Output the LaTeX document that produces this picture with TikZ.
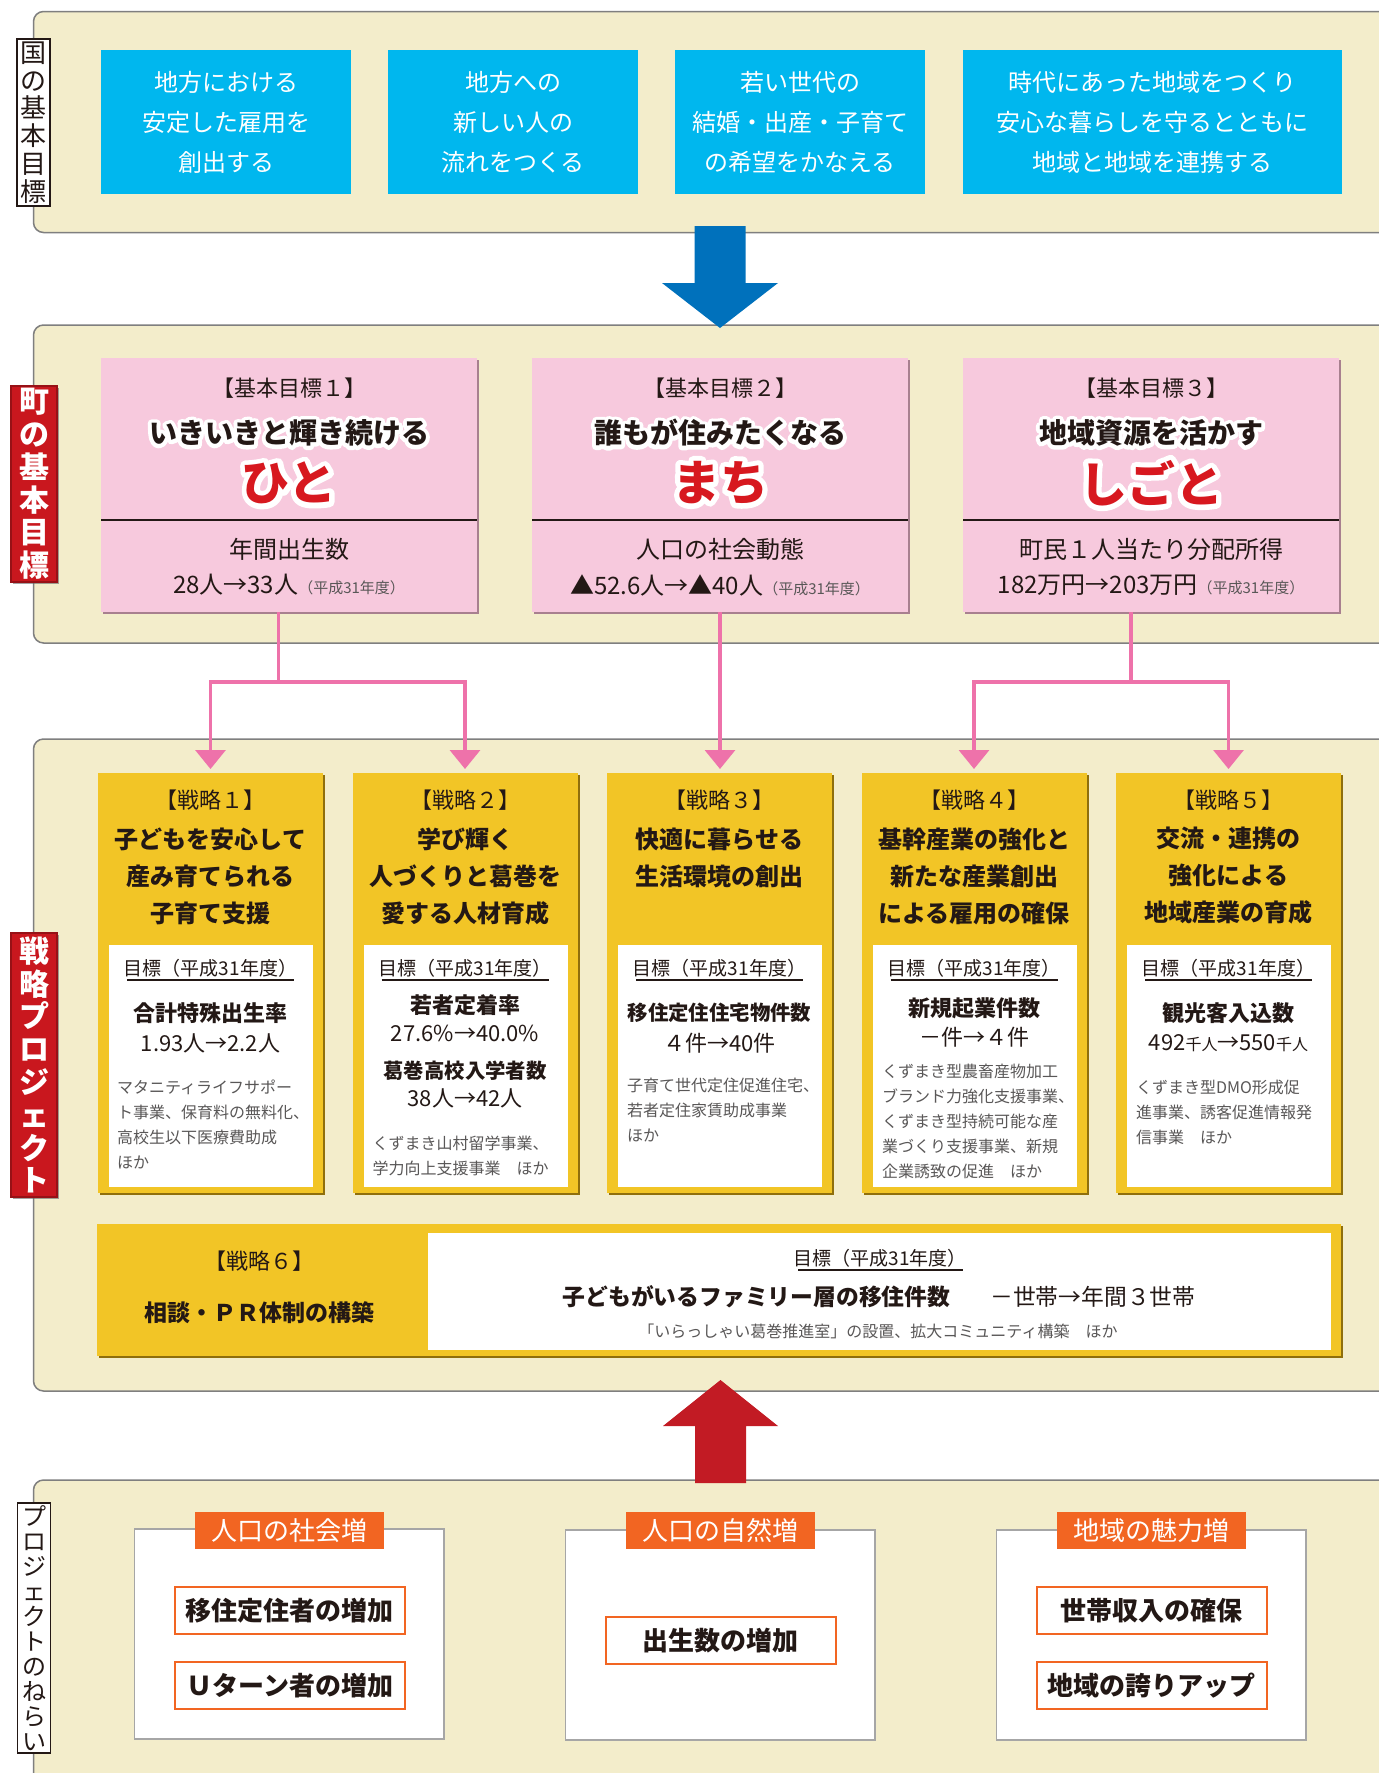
\documentclass[tikz,border=0pt]{standalone}
\usepackage{fontspec}
\setmainfont{Noto Sans CJK JP}
\newfontfamily\haloA{Noto Sans CJK JP}[FakeBold=28]
\newfontfamily\haloB{Noto Sans CJK JP}[FakeBold=22]
\newcommand{\halotxt}[2]{\rlap{\special{pdf:literal direct 1 j 1 J}{#1\bfseries\color{white}#2}}#2}
\usetikzlibrary{arrows.meta,calc,shadows}
\definecolor{panelc}{HTML}{F3EDCB}
\definecolor{panelline}{HTML}{7F7F7F}
\definecolor{bluec}{HTML}{00B7EE}
\definecolor{arrowblue}{HTML}{0071BC}
\definecolor{pinkc}{HTML}{F7C9DD}
\definecolor{pinkshadow}{HTML}{A8808F}
\definecolor{pinkline}{HTML}{EE72AA}
\definecolor{goldc}{HTML}{F2C526}
\definecolor{goldshadow}{HTML}{8F6F0C}
\definecolor{redlabel}{HTML}{C9171E}
\definecolor{redword}{HTML}{D7181F}
\definecolor{arrowred}{HTML}{C21B24}
\definecolor{orangec}{HTML}{F26522}
\definecolor{inkc}{HTML}{231815}
\definecolor{greyc}{HTML}{595757}
\tikzset{
  panel/.style={fill=panelc, draw=panelline, line width=0.75pt, rounded corners=5pt},
  boxnw/.style={anchor=north west, inner sep=0pt, outer sep=0pt},
  vlabel/.style={boxnw, fill=white, draw=inkc, line width=0.6pt, align=center, text=inkc, minimum width=16.5pt},
  redtag/.style={boxnw, fill=redlabel, draw=redlabel!75!black, line width=0.6pt, align=center, text=white, minimum width=23pt, font={\bfseries\fontsize{15}{16.4}\selectfont}, drop shadow={shadow xshift=0.8pt, shadow yshift=-0.8pt, fill=black!60, opacity=0.6}},
  goal/.style={boxnw, fill=bluec, text=white, align=center, minimum height=72pt, font={\fontsize{12}{20}\selectfont}},
  basic/.style={boxnw, fill=pinkc, minimum width=188pt, minimum height=127pt, drop shadow={shadow xshift=1.2pt, shadow yshift=-1.2pt, fill=pinkshadow, opacity=1}},
  bnum/.style={text=inkc, font={\fontsize{11}{11}\selectfont}},
  slogan/.style={text=inkc, font={\bfseries\fontsize{14}{14}\selectfont}},
  bigword/.style={text=redword, font={\bfseries\fontsize{24}{24}\selectfont}},
  metric/.style={text=inkc, font={\fontsize{12}{12}\selectfont}},
  conn/.style={draw=pinkline, line width=1.65pt, -{Triangle[width=15pt,length=9.5pt]}, shorten >=2pt},
  strat/.style={boxnw, fill=goldc, minimum width=112.5pt, minimum height=210pt, drop shadow={shadow xshift=1.2pt, shadow yshift=-1.2pt, fill=goldshadow, opacity=1}},
  whitein/.style={boxnw, fill=white, minimum width=102pt, minimum height=121pt},
  snum/.style={text=inkc, font={\fontsize{11}{11}\selectfont}},
  stitle/.style={text=inkc, align=center, font={\bfseries\fontsize{12}{18.5}\selectfont}},
  mokuhyo/.style={text=inkc, font={\fontsize{9.5}{9.5}\selectfont}},
  uline/.style={draw=inkc, line width=0.6pt},
  kpi/.style={text=inkc, font={\bfseries\fontsize{11}{11}\selectfont}},
  kpival/.style={text=inkc, font={\fontsize{11}{11}\selectfont}},
  desc/.style={anchor=west, align=left, text=greyc, font={\fontsize{8}{12.5}\selectfont}},
  aimbox/.style={boxnw, fill=white, draw=black!35, line width=0.6pt, minimum width=154.75pt, minimum height=105pt, drop shadow={shadow xshift=0.6pt, shadow yshift=-0.6pt, fill=black!25, opacity=1}},
  aimhead/.style={boxnw, fill=orangec, text=white, minimum width=94.5pt, minimum height=18.5pt, font={\fontsize{13}{13}\selectfont}},
  aimitem/.style={boxnw, fill=white, draw=orangec, line width=1pt, minimum width=114.75pt, minimum height=23.5pt, text=inkc, font={\bfseries\fontsize{13}{13}\selectfont}}
}
\begin{document}
\begin{tikzpicture}[x=0.5pt,y=-0.5pt,every node/.style={inner sep=0pt,outer sep=0pt}]
\useasboundingbox (0,0) rectangle (1379,1773);
\clip (0,0) rectangle (1379,1773);
\fill[white] (0,0) rectangle (1379,1773);

% panels
\draw[panel] (33.5,11.5) rectangle (1420,232.5);
\draw[panel] (33.5,325) rectangle (1420,643);
\draw[panel] (33.5,739) rectangle (1420,1391);
\draw[panel] (33.5,1480) rectangle (1420,1820);

% side labels
\node[vlabel, minimum height=83.5pt, font={\fontsize{13}{13.9}\selectfont}] (lab1) at (17,39) {国\\の\\基\\本\\目\\標};
\node[redtag, minimum height=98pt] (lab2) at (11,386) {町\\の\\基\\本\\目\\標};
\node[redtag, minimum height=132pt] (lab3) at (11,933) {戦\\略\\プ\\ロ\\ジ\\ェ\\ク\\ト};
\node[vlabel, minimum height=125pt, font={\fontsize{12}{12.5}\selectfont}] (lab4) at (17.5,1503) {プ\\ロ\\ジ\\ェ\\ク\\ト\\の\\ね\\ら\\い};

% national goals
\node[goal, minimum width=125pt] (g1) at (101,50) {地方における\\安定した雇用を\\創出する};
\node[goal, minimum width=125pt] (g2) at (388,50) {地方への\\新しい人の\\流れをつくる};
\node[goal, minimum width=125pt] (g3) at (675,50) {若い世代の\\結婚・出産・子育て\\の希望をかなえる};
\node[goal, minimum width=189.5pt] (g4) at (963,50) {時代にあった地域をつくり\\安心な暮らしを守るとともに\\地域と地域を連携する};

% blue arrow
\fill[arrowblue] (694.5,226) -- (745.5,226) -- (745.5,283) -- (778,283) -- (720,328) -- (662,283) -- (694.5,283) -- cycle;

% town basic goals
\node[basic] (p1) at (101,358) {};
\node[basic] (p2) at (532,358) {};
\node[basic] (p3) at (963,358) {};
\foreach \p in {p1,p2,p3}{
  \draw[inkc, line width=0.6pt] ([yshift=-81pt]\p.north west) -- ([yshift=-81pt]\p.north east);
}
\node[bnum] (p1a) at ($(p1.north)+(0,30)$) {【基本目標１】};
\node[slogan] (p1b) at ($(p1.north)+(0,75)$) {\halotxt{\haloA}{いきいきと輝き続ける}};
\node[bigword] (p1c) at ($(p1.north)+(0,125)$) {\halotxt{\haloB}{ひと}};
\node[metric] (p1d) at ($(p1.north)+(0,191)$) {年間出生数};
\node[metric] (p1e) at ($(p1.north)+(0,227)$) {28人→33人{\fontsize{7.5}{7.5}\selectfont\color{greyc}（平成31年度）}};

\node[bnum] (p2a) at ($(p2.north)+(0,30)$) {【基本目標２】};
\node[slogan] (p2b) at ($(p2.north)+(0,75)$) {\halotxt{\haloA}{誰もが住みたくなる}};
\node[bigword] (p2c) at ($(p2.north)+(0,125)$) {\halotxt{\haloB}{まち}};
\node[metric] (p2d) at ($(p2.north)+(0,191)$) {人口の社会動態};
\node[metric] (p2e) at ($(p2.north)+(0,227)$) {▲52.6人→▲40人{\fontsize{7.5}{7.5}\selectfont\color{greyc}（平成31年度）}};

\node[bnum] (p3a) at ($(p3.north)+(0,30)$) {【基本目標３】};
\node[slogan] (p3b) at ($(p3.north)+(0,75)$) {\halotxt{\haloA}{地域資源を活かす}};
\node[bigword] (p3c) at ($(p3.north)+(0,125)$) {\halotxt{\haloB}{しごと}};
\node[metric] (p3d) at ($(p3.north)+(0,191)$) {町民１人当たり分配所得};
\node[metric] (p3e) at ($(p3.north)+(0,227)$) {182万円→203万円{\fontsize{7.5}{7.5}\selectfont\color{greyc}（平成31年度）}};

% strategy boxes
\node[strat] (s1) at (98,773) {};
\node[strat] (s2) at (352.5,773) {};
\node[strat] (s3) at (607,773) {};
\node[strat] (s4) at (861.5,773) {};
\node[strat] (s5) at (1116,773) {};
\foreach \s/\w in {s1/w1,s2/w2,s3/w3,s4/w4,s5/w5}{
  \node[whitein] (\w) at ($(\s.north west)+(11,172)$) {};
  \draw[uline] ($(\s.north)+(-83.5,207)$) -- ($(\s.north)+(83.5,207)$);
}

% connectors
\draw[conn] ([xshift=-5.25pt]p1.south) -- ++(0,70) -| (s1.north);
\draw[conn] ([xshift=-5.25pt]p1.south) -- ++(0,70) -| (s2.north);
\draw[conn] (p2.south) -- (p2.south |- s3.north);
\draw[conn] ([xshift=-10pt]p3.south) -- ++(0,70) -| (s4.north);
\draw[conn] ([xshift=-10pt]p3.south) -- ++(0,70) -| (s5.north);

% strategy 1
\node[snum] (s1a) at ($(s1.north)+(0,27)$) {【戦略１】};
\node[stitle] (s1b) at ($(s1.north)+(0,103)$) {子どもを安心して\\産み育てられる\\子育て支援};
\node[mokuhyo] (s1c) at ($(s1.north)+(0,195)$) {目標（平成31年度）};
\node[kpi] (s1d) at ($(s1.north)+(0,240)$) {合計特殊出生率};
\node[kpival] (s1e) at ($(s1.north)+(0,270)$) {1.93人→2.2人};
\node[desc] (s1f) at ($(s1.north west)+(19,351)$) {マタニティライフサポー\\ト事業、保育料の無料化、\\高校生以下医療費助成\\ほか};

% strategy 2
\node[snum] (s2a) at ($(s2.north)+(0,27)$) {【戦略２】};
\node[stitle] (s2b) at ($(s2.north)+(0,103)$) {学び輝く\\人づくりと葛巻を\\愛する人材育成};
\node[mokuhyo] (s2c) at ($(s2.north)+(0,195)$) {目標（平成31年度）};
\node[kpi] (s2d) at ($(s2.north)+(0,232)$) {若者定着率};
\node[kpival] (s2e) at ($(s2.north)+(0,260)$) {27.6\%→40.0\%};
\node[kpi, font={\bfseries\fontsize{10.2}{10.2}\selectfont}] (s2f) at ($(s2.north)+(0,298)$) {葛巻高校入学者数};
\node[kpival] (s2g) at ($(s2.north)+(0,325)$) {38人→42人};
\node[desc] (s2h) at ($(s2.north west)+(20,382.5)$) {くずまき山村留学事業、\\学力向上支援事業　ほか};

% strategy 3
\node[snum] (s3a) at ($(s3.north)+(0,27)$) {【戦略３】};
\node[stitle] (s3b) at ($(s3.north)+(0,85)$) {快適に暮らせる\\生活環境の創出};
\node[mokuhyo] (s3c) at ($(s3.north)+(0,195)$) {目標（平成31年度）};
\node[kpi, font={\bfseries\fontsize{10.2}{10.2}\selectfont}] (s3d) at ($(s3.north)+(0,240)$) {移住定住住宅物件数};
\node[kpival] (s3e) at ($(s3.north)+(0,270)$) {４件→40件};
\node[desc] (s3f) at ($(s3.north west)+(20,337.5)$) {子育て世代定住促進住宅、\\若者定住家賃助成事業\\ほか};

% strategy 4
\node[snum] (s4a) at ($(s4.north)+(0,27)$) {【戦略４】};
\node[stitle] (s4b) at ($(s4.north)+(0,103)$) {基幹産業の強化と\\新たな産業創出\\による雇用の確保};
\node[mokuhyo] (s4c) at ($(s4.north)+(0,195)$) {目標（平成31年度）};
\node[kpi] (s4d) at ($(s4.north)+(0,235)$) {新規起業件数};
\node[kpival] (s4e) at ($(s4.north)+(0,264)$) {－件→４件};
\node[desc] (s4f) at ($(s4.north west)+(20.5,348)$) {くずまき型農畜産物加工\\ブランド力強化支援事業、\\くずまき型持続可能な産\\業づくり支援事業、新規\\企業誘致の促進　ほか};

% strategy 5
\node[snum] (s5a) at ($(s5.north)+(0,27)$) {【戦略５】};
\node[stitle] (s5b) at ($(s5.north)+(0,103)$) {交流・連携の\\強化による\\地域産業の育成};
\node[mokuhyo] (s5c) at ($(s5.north)+(0,195)$) {目標（平成31年度）};
\node[kpi] (s5d) at ($(s5.north)+(0,240)$) {観光客入込数};
\node[kpival] (s5e) at ($(s5.north)+(0,270)$) {492{\fontsize{8}{8}\selectfont 千人}→550{\fontsize{8}{8}\selectfont 千人}};
\node[desc] (s5f) at ($(s5.north west)+(20,339)$) {くずまき型DMO形成促\\進事業、誘客促進情報発\\信事業　ほか};

% strategy 6
\node[boxnw, fill=goldc, minimum width=622pt, minimum height=66pt, drop shadow={shadow xshift=1.2pt, shadow yshift=-1.2pt, fill=goldshadow, opacity=1}] (s6) at (96.5,1224) {};
\node[boxnw, fill=white, minimum width=451.5pt, minimum height=58.5pt] (w6) at (428,1233) {};
\node[snum] (s6a) at (259,1261) {【戦略６】};
\node[text=inkc, font={\bfseries\fontsize{11.5}{11.5}\selectfont}] (s6b) at (259,1313) {相談・ＰＲ体制の構築};
\node[mokuhyo] (s6c) at (880,1258) {目標（平成31年度）};
\draw[uline] (798,1270) -- (963,1270);
\node[text=inkc, font={\fontsize{11.4}{11.4}\selectfont}] (s6d) at (879,1297) {{\bfseries 子どもがいるファミリー層の移住件数}\hspace{20pt}－世帯→年間３世帯};
\node[text=greyc, font={\fontsize{8}{8}\selectfont}] (s6e) at (878,1331) {「いらっしゃい葛巻推進室」の設置、拡大コミュニティ構築　ほか};

% red arrow
\fill[arrowred] (720.5,1380) -- (778,1426) -- (746,1426) -- (746,1483) -- (695,1483) -- (695,1426) -- (663,1426) -- cycle;

% project aims
\node[aimbox] (a1) at (134.5,1529) {};
\node[aimbox] (a2) at (565.5,1530) {};
\node[aimbox] (a3) at (996.5,1530) {};
\node[aimhead] (h1) at (195,1512) {人口の社会増};
\node[aimhead] (h2) at (626,1512) {人口の自然増};
\node[aimhead] (h3) at (1057,1512) {地域の魅力増};
\node[aimitem] (i1) at (175,1587) {移住定住者の増加};
\node[aimitem] (i2) at (175,1662) {Ｕターン者の増加};
\node[aimitem] (i3) at (606,1617) {出生数の増加};
\node[aimitem] (i4) at (1037,1587) {世帯収入の確保};
\node[aimitem] (i5) at (1037,1662) {地域の誇りアップ};
\end{tikzpicture}
\end{document}
